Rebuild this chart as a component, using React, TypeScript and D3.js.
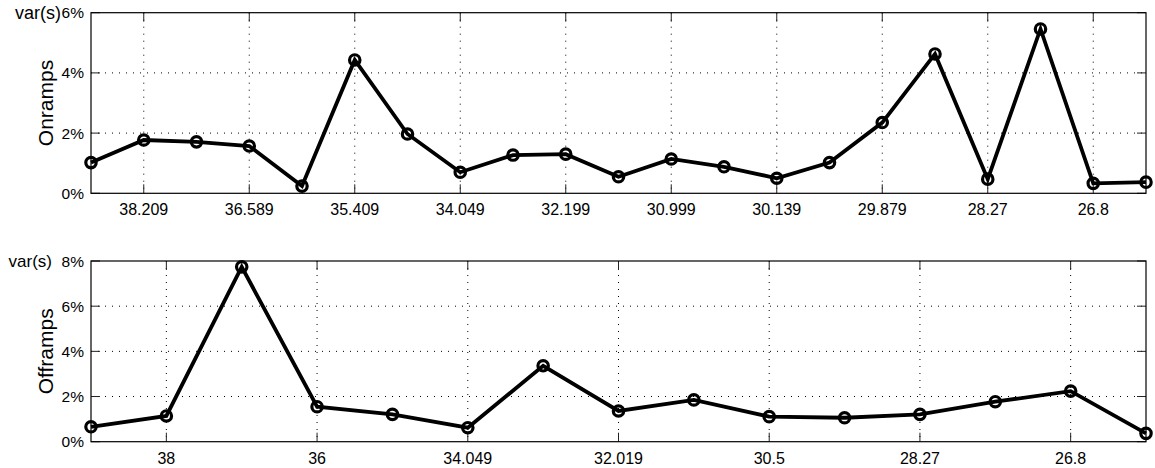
import React from "react";
import * as d3 from "d3";

const onrampValues = [1.02, 1.77, 1.71, 1.57, 0.24, 4.43, 1.97, 0.70, 1.27, 1.30, 0.55, 1.14, 0.88, 0.50, 1.02, 2.35, 4.63, 0.47, 5.46, 0.33, 0.37];
const onrampTickIdx = [1, 3, 5, 7, 9, 11, 13, 15, 17, 19];
const onrampTickLabels = ["38.209", "36.589", "35.409", "34.049", "32.199", "30.999", "30.139", "29.879", "28.27", "26.8"];
const onrampYTicks = [0, 2, 4, 6];

const offrampValues = [0.66, 1.14, 7.74, 1.55, 1.21, 0.62, 3.36, 1.36, 1.85, 1.11, 1.06, 1.21, 1.77, 2.24, 0.37];
const offrampTickIdx = [1, 3, 5, 7, 9, 11, 13];
const offrampTickLabels = ["38", "36", "34.049", "32.019", "30.5", "28.27", "26.8"];
const offrampYTicks = [0, 2, 4, 6, 8];

const FONT = "'Liberation Sans', Arial, Helvetica, sans-serif";

type PanelProps = {
  values: number[];
  tickIdx: number[];
  tickLabels: string[];
  yTicks: number[];
  top: number;
  bottom: number;
  label: string;
  varX: number;
  varSize: number;
};

const LEFT = 91;
const RIGHT = 1146;

function Panel({ values, tickIdx, tickLabels, yTicks, top, bottom, label, varX, varSize }: PanelProps) {
  const x = d3.scaleLinear().domain([0, values.length - 1]).range([LEFT, RIGHT]);
  const y = d3.scaleLinear().domain([0, yTicks[yTicks.length - 1]]).range([bottom, top]);
  const line = d3.line<number>().x((_, i) => x(i)).y((d) => y(d));
  const tl = 9;
  return (
    <g>
      {tickIdx.map((t) => (
        <line key={"gx" + t} x1={x(t)} x2={x(t)} y1={top} y2={bottom} stroke="#000" strokeWidth={1} strokeDasharray="1,6" />
      ))}
      {yTicks.slice(1, -1).map((t) => (
        <line key={"gy" + t} x1={LEFT} x2={RIGHT} y1={y(t)} y2={y(t)} stroke="#000" strokeWidth={1} strokeDasharray="1,6" />
      ))}
      {tickIdx.map((t) => (
        <g key={"tx" + t}>
          <line x1={x(t)} x2={x(t)} y1={bottom} y2={bottom - tl} stroke="#222" strokeWidth={1} />
          <line x1={x(t)} x2={x(t)} y1={top} y2={top + tl} stroke="#222" strokeWidth={1} />
        </g>
      ))}
      {yTicks.map((t) => (
        <g key={"ty" + t}>
          <line x1={LEFT} x2={LEFT + tl} y1={y(t)} y2={y(t)} stroke="#222" strokeWidth={1} />
          <line x1={RIGHT} x2={RIGHT - tl} y1={y(t)} y2={y(t)} stroke="#222" strokeWidth={1} />
        </g>
      ))}
      <rect x={LEFT} y={top} width={RIGHT - LEFT} height={bottom - top} fill="none" stroke="#000" strokeWidth={1.2} />
      {tickIdx.map((t, i) => (
        <text key={"lx" + t} x={x(t)} y={bottom + 22} textAnchor="middle" fontSize={16} fontFamily={FONT}>
          {tickLabels[i]}
        </text>
      ))}
      {yTicks.map((t) => (
        <text key={"ly" + t} x={LEFT - 7} y={y(t)} dy="0.36em" textAnchor="end" fontSize={15.5} fontFamily={FONT}>
          {t + "%"}
        </text>
      ))}
      <text x={varX} y={top + 6} textAnchor="end" fontSize={varSize} fontFamily={FONT}>var(s)</text>
      <text
        transform={`translate(53,${(top + bottom) / 2}) rotate(-90)`}
        textAnchor="middle"
        fontSize={21}
        fontFamily={FONT}
      >
        {label}
      </text>
      <path d={line(values) || ""} fill="none" stroke="#000" strokeWidth={3.8} strokeLinejoin="miter" />
      {values.map((v, i) => (
        <circle key={"c" + i} cx={x(i)} cy={y(v)} r={5.2} fill="none" stroke="#000" strokeWidth={3.2} />
      ))}
    </g>
  );
}

export default function App() {
  return (
    <svg width={1155} height={468} style={{ position: "absolute", left: 0, top: 0, background: "#fff" }}>
      <rect width={1155} height={468} fill="#fff" />
      <Panel
        values={onrampValues}
        tickIdx={onrampTickIdx}
        tickLabels={onrampTickLabels}
        yTicks={onrampYTicks}
        top={12.7}
        bottom={193.3}
        label="Onramps"
        varX={61}
        varSize={18}
      />
      <Panel
        values={offrampValues}
        tickIdx={offrampTickIdx}
        tickLabels={offrampTickLabels}
        yTicks={offrampYTicks}
        top={261}
        bottom={441.7}
        label="Offramps"
        varX={52}
        varSize={17}
      />
    </svg>
  );
}
